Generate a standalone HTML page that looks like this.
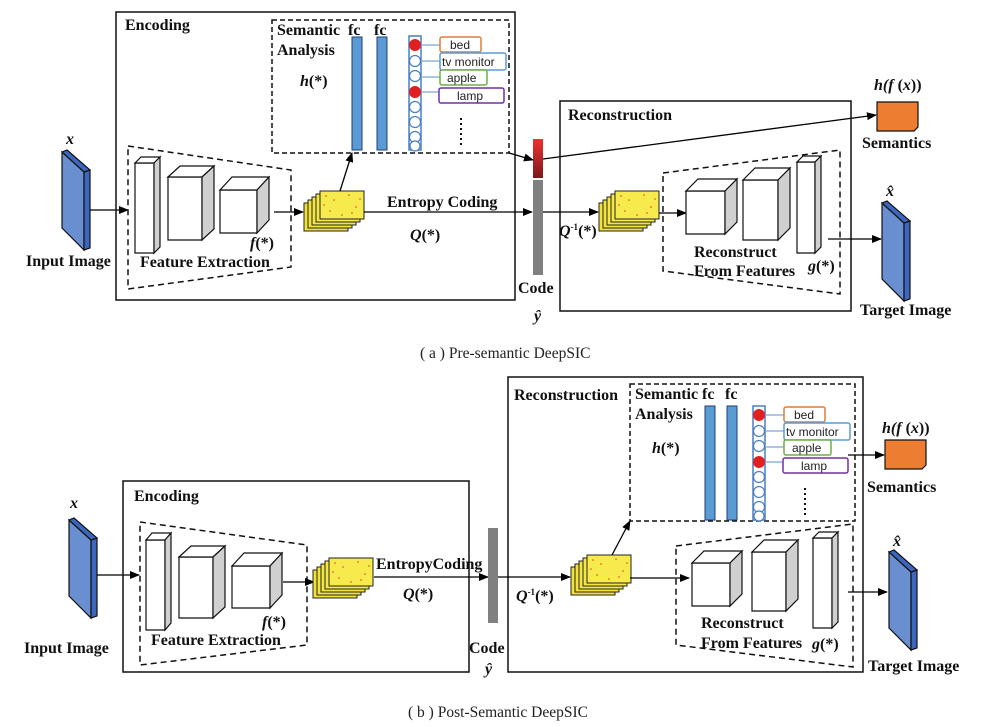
<!DOCTYPE html>
<html><head><meta charset="utf-8"><style>
html,body{margin:0;padding:0;background:#fff;}
svg{display:block;}
.b{font-family:"Liberation Serif",serif;font-weight:bold;font-size:16px;fill:#111;}
.i{font-family:"Liberation Serif",serif;font-weight:bold;font-style:italic;font-size:16px;fill:#111;}
.s{font-family:"Liberation Sans",sans-serif;font-size:12px;fill:#222;}
.c{font-family:"Liberation Serif",serif;font-size:15.5px;fill:#222;}
</style></head><body>
<svg width="994" height="727" viewBox="0 0 994 727" xmlns="http://www.w3.org/2000/svg">
<defs>
<marker id="ar" markerWidth="10" markerHeight="8" refX="9" refY="4" orient="auto" markerUnits="userSpaceOnUse">
<path d="M0,0 L10,4 L0,8 z" fill="#000"/></marker>
<g id="fm">
<rect x="0" y="12" width="44" height="28" fill="#f2e238" stroke="#222"/>
<rect x="4" y="9" width="44" height="28" fill="#f3e43c" stroke="#222"/>
<rect x="8" y="6" width="44" height="28" fill="#f4e640" stroke="#222"/>
<rect x="12" y="3" width="44" height="28" fill="#f5e845" stroke="#222"/>
<rect x="16" y="0" width="44" height="28" fill="#f6ea4c" stroke="#222"/>
<g fill="#d9442a"><circle cx="22" cy="5" r="0.8"/><circle cx="30" cy="9" r="0.8"/><circle cx="45" cy="4" r="0.8"/><circle cx="52" cy="16" r="0.8"/><circle cx="26" cy="20" r="0.8"/><circle cx="38" cy="24" r="0.8"/><circle cx="56" cy="8" r="0.8"/><circle cx="20" cy="14" r="0.8"/><circle cx="48" cy="22" r="0.8"/></g>
</g>
<g id="sl">
<polygon points="0,0 22,20 22,98 0,76" fill="#6a8fd0" stroke="#111" stroke-width="1.2"/>
<polygon points="22,20 28,18 28,96 22,98" fill="#3d66bf" stroke="#111" stroke-width="1.2"/>
<polygon points="0,0 5,-2 28,18 22,20" fill="#3d66bf" stroke="#111" stroke-width="1.2"/>
</g>
<g id="neu">
<rect x="0" y="0" width="12" height="114" fill="#fff" stroke="#4a7fc0" stroke-width="1.5"/>
<g fill="#fff" stroke="#4a7fc0" stroke-width="1.2">
<circle cx="6" cy="25" r="5.5"/><circle cx="6" cy="40" r="5.5"/><circle cx="6" cy="71" r="5.5"/><circle cx="6" cy="86" r="5.5"/><circle cx="6" cy="101" r="5.5"/><circle cx="6" cy="110" r="5"/></g>
<circle cx="6" cy="9" r="6" fill="#e02020"/><circle cx="6" cy="56" r="6" fill="#e02020"/>
<g stroke="#7aa7d8" stroke-width="1.2"><line x1="12" y1="9" x2="31" y2="9"/><line x1="12" y1="25" x2="31" y2="25"/><line x1="12" y1="41" x2="31" y2="41"/><line x1="12" y1="56" x2="30" y2="56"/></g>
<rect x="31" y="1" width="41" height="15" rx="2" fill="#fff" stroke="#e07b39" stroke-width="1.5"/>
<rect x="31" y="17" width="66" height="17" rx="2" fill="#fff" stroke="#5b9bd5" stroke-width="1.5"/>
<rect x="31" y="34" width="47" height="15" rx="2" fill="#fff" stroke="#70ad47" stroke-width="1.5"/>
<rect x="30" y="52" width="65" height="15" rx="2" fill="#fff" stroke="#7030a0" stroke-width="1.5"/>
<line x1="52" y1="82" x2="52" y2="111" stroke="#111" stroke-width="2" stroke-dasharray="2,3"/>
</g>
<g id="sem"><polygon points="0,0 41,0 41,25 37,29 0,29" fill="#ed7d31" stroke="#111" stroke-width="1.2"/></g>
</defs>

<!-- ================= (a) ================= -->
<use href="#sl" x="62" y="152"/>
<text class="i" x="66" y="144">x</text>
<text class="b" x="26" y="266">Input Image</text>
<line x1="90" y1="210" x2="128" y2="210" stroke="#000" stroke-width="1.3" marker-end="url(#ar)"/>

<rect x="116" y="12" width="399" height="288" fill="none" stroke="#111" stroke-width="1.5"/>
<text class="b" x="125" y="30">Encoding</text>

<rect x="272" y="20" width="237" height="133" fill="none" stroke="#111" stroke-width="1.5" stroke-dasharray="5,3"/>
<text class="b" x="277" y="35">Semantic</text>
<text class="b" x="277" y="55">Analysis</text>
<text class="i" x="300" y="86">h<tspan font-style="normal">(*)</tspan></text>
<text class="b" x="348" y="35">fc</text>
<text class="b" x="374" y="35">fc</text>
<rect x="352" y="37" width="10" height="113" fill="#5b9bd5" stroke="#1f3f70"/>
<rect x="377" y="37" width="10" height="113" fill="#5b9bd5" stroke="#1f3f70"/>
<use href="#neu" x="409" y="36"/>
<text class="s" x="450" y="49">bed</text>
<text class="s" x="442" y="66">tv monitor</text>
<text class="s" x="447" y="82">apple</text>
<text class="s" x="457" y="100">lamp</text>

<polygon points="128,146 291,170 291,267 128,289" fill="none" stroke="#111" stroke-width="1.5" stroke-dasharray="6,4"/>
<g stroke="#111" stroke-width="1.2">
<polygon points="135,163 154,163 154,253 135,253" fill="#fff"/>
<polygon points="135,163 141,157 160,157 154,163" fill="#fff"/>
<polygon points="154,163 160,157 160,247 154,253" fill="#d0d0d0"/>
<polygon points="168,177 202,177 202,240 168,240" fill="#fff"/>
<polygon points="168,177 180,166 214,166 202,177" fill="#fff"/>
<polygon points="202,177 214,166 214,229 202,240" fill="#d0d0d0"/>
<polygon points="220,190 257,190 257,233 220,233" fill="#fff"/>
<polygon points="220,190 232,177 269,177 257,190" fill="#fff"/>
<polygon points="257,190 269,177 269,220 257,233" fill="#d0d0d0"/>
</g>
<text class="i" x="250" y="248">f<tspan font-style="normal">(*)</tspan></text>
<text class="b" x="140" y="267">Feature Extraction</text>
<line x1="274" y1="212" x2="303" y2="212" stroke="#000" stroke-width="1.3" marker-end="url(#ar)"/>
<use href="#fm" x="304" y="191"/>
<line x1="340" y1="191" x2="352" y2="153" stroke="#000" stroke-width="1.3" marker-end="url(#ar)"/>
<line x1="364" y1="212" x2="532" y2="212" stroke="#000" stroke-width="1.3" marker-end="url(#ar)"/>
<text class="b" x="387" y="207">Entropy Coding</text>
<text class="i" x="410" y="240">Q<tspan font-style="normal">(*)</tspan></text>

<defs><linearGradient id="rg" x1="0" y1="0" x2="0" y2="1"><stop offset="0" stop-color="#f03030"/><stop offset="1" stop-color="#7a1a1a"/></linearGradient></defs>
<rect x="533" y="139" width="10" height="39" fill="url(#rg)"/>
<rect x="533" y="180" width="10" height="95" fill="#808080"/>
<text class="b" x="518" y="293">Code</text>
<text class="i" x="534" y="321">ŷ</text>
<line x1="509" y1="153" x2="533" y2="160" stroke="#000" stroke-width="1.3" marker-end="url(#ar)"/>
<line x1="543" y1="159" x2="876" y2="115" stroke="#000" stroke-width="1.3" marker-end="url(#ar)"/>
<use href="#sem" x="877" y="102"/>
<text class="i" x="874" y="90" font-size="14">h(f<tspan font-style="normal"> (</tspan>x<tspan font-style="normal">))</tspan></text>
<text class="b" x="862" y="148">Semantics</text>

<rect x="560" y="101" width="291" height="210" fill="none" stroke="#111" stroke-width="1.5"/>
<text class="b" x="568" y="120">Reconstruction</text>
<line x1="543" y1="212" x2="598" y2="212" stroke="#000" stroke-width="1.3" marker-end="url(#ar)"/>
<text class="i" x="559" y="236">Q<tspan font-style="normal" font-size="9" dy="-6">-1</tspan><tspan font-style="normal" dy="6">(*)</tspan></text>
<use href="#fm" x="599" y="191"/>
<polygon points="663,173 840,150 840,294 663,271" fill="none" stroke="#111" stroke-width="1.5" stroke-dasharray="6,4"/>
<line x1="659" y1="213" x2="686" y2="213" stroke="#000" stroke-width="1.3" marker-end="url(#ar)"/>
<g stroke="#111" stroke-width="1.2">
<polygon points="686,191 725,191 725,234 686,234" fill="#fff"/>
<polygon points="686,191 698,179 737,179 725,191" fill="#fff"/>
<polygon points="725,191 737,179 737,222 725,234" fill="#d0d0d0"/>
<polygon points="743,180 778,180 778,240 743,240" fill="#fff"/>
<polygon points="743,180 755,168 790,168 778,180" fill="#fff"/>
<polygon points="778,180 790,168 790,228 778,240" fill="#d0d0d0"/>
<polygon points="797,162 815,162 815,253 797,253" fill="#fff"/>
<polygon points="797,162 803,156 821,156 815,162" fill="#fff"/>
<polygon points="815,162 821,156 821,247 815,253" fill="#d0d0d0"/>
</g>
<text class="b" x="694" y="257">Reconstruct</text>
<text class="b" x="694" y="276">From Features</text>
<text class="i" x="808" y="271">g<tspan font-style="normal">(*)</tspan></text>
<line x1="828" y1="239" x2="881" y2="239" stroke="#000" stroke-width="1.3" marker-end="url(#ar)"/>
<use href="#sl" x="882" y="203"/>
<text class="i" x="886" y="196">x̂</text>
<text class="b" x="860" y="315">Target Image</text>
<text class="c" x="420" y="358">( a ) Pre-semantic DeepSIC</text>

<!-- ================= (b) ================= -->
<use href="#sl" x="69" y="520"/>
<text class="i" x="70" y="508">x</text>
<text class="b" x="24" y="653">Input Image</text>
<line x1="97" y1="575" x2="139" y2="575" stroke="#000" stroke-width="1.3" marker-end="url(#ar)"/>
<rect x="123" y="481" width="346" height="191" fill="none" stroke="#111" stroke-width="1.5"/>
<text class="b" x="134" y="501">Encoding</text>
<polygon points="140,522 307,545 307,645 140,665" fill="none" stroke="#111" stroke-width="1.5" stroke-dasharray="6,4"/>
<g stroke="#111" stroke-width="1.2">
<polygon points="146,540 165,540 165,630 146,630" fill="#fff"/>
<polygon points="146,540 152,533 171,533 165,540" fill="#fff"/>
<polygon points="165,540 171,533 171,623 165,630" fill="#d0d0d0"/>
<polygon points="179,557 213,557 213,618 179,618" fill="#fff"/>
<polygon points="179,557 191,546 225,546 213,557" fill="#fff"/>
<polygon points="213,557 225,546 225,607 213,618" fill="#d0d0d0"/>
<polygon points="232,566 270,566 270,608 232,608" fill="#fff"/>
<polygon points="232,566 244,553 282,553 270,566" fill="#fff"/>
<polygon points="270,566 282,553 282,595 270,608" fill="#d0d0d0"/>
</g>
<text class="i" x="262" y="627">f<tspan font-style="normal">(*)</tspan></text>
<text class="b" x="151" y="645">Feature Extraction</text>
<line x1="283" y1="582" x2="314" y2="582" stroke="#000" stroke-width="1.3" marker-end="url(#ar)"/>
<use href="#fm" x="313" y="558"/>
<text class="b" x="376" y="569">EntropyCoding</text>
<text class="i" x="403" y="599">Q<tspan font-style="normal">(*)</tspan></text>
<line x1="374" y1="577" x2="488" y2="577" stroke="#000" stroke-width="1.3" marker-end="url(#ar)"/>
<rect x="488" y="528" width="10" height="95" fill="#808080"/>
<text class="b" x="469" y="653">Code</text>
<text class="i" x="485" y="674">ŷ</text>

<rect x="508" y="377" width="355" height="295" fill="none" stroke="#111" stroke-width="1.5"/>
<text class="b" x="514" y="400">Reconstruction</text>
<rect x="630" y="384" width="225" height="137" fill="none" stroke="#111" stroke-width="1.5" stroke-dasharray="5,3"/>
<text class="b" x="635" y="399">Semantic</text>
<text class="b" x="635" y="419">Analysis</text>
<text class="i" x="652" y="453">h<tspan font-style="normal">(*)</tspan></text>
<text class="b" x="702" y="399">fc</text>
<text class="b" x="725" y="399">fc</text>
<rect x="705" y="406" width="10" height="114" fill="#5b9bd5" stroke="#1f3f70"/>
<rect x="727" y="406" width="10" height="114" fill="#5b9bd5" stroke="#1f3f70"/>
<use href="#neu" x="753" y="406"/>
<text class="s" x="794" y="419">bed</text>
<text class="s" x="786" y="436">tv monitor</text>
<text class="s" x="792" y="452">apple</text>
<text class="s" x="801" y="470">lamp</text>
<line x1="848" y1="455" x2="884" y2="455" stroke="#000" stroke-width="1.3" marker-end="url(#ar)"/>
<use href="#sem" x="885" y="440"/>
<text class="i" x="882" y="433" font-size="14">h(f<tspan font-style="normal"> (</tspan>x<tspan font-style="normal">))</tspan></text>
<text class="b" x="867" y="492">Semantics</text>

<line x1="498" y1="577" x2="570" y2="577" stroke="#000" stroke-width="1.3" marker-end="url(#ar)"/>
<text class="i" x="516" y="601">Q<tspan font-style="normal" font-size="9" dy="-6">-1</tspan><tspan font-style="normal" dy="6">(*)</tspan></text>
<use href="#fm" x="571" y="555"/>
<line x1="612" y1="555" x2="630" y2="521" stroke="#000" stroke-width="1.3" marker-end="url(#ar)"/>
<line x1="630" y1="578" x2="689" y2="578" stroke="#000" stroke-width="1.3" marker-end="url(#ar)"/>
<polygon points="676,546 853,524 853,667 676,645" fill="none" stroke="#111" stroke-width="1.5" stroke-dasharray="6,4"/>
<g stroke="#111" stroke-width="1.2">
<polygon points="692,563 730,563 730,606 692,606" fill="#fff"/>
<polygon points="692,563 704,551 742,551 730,563" fill="#fff"/>
<polygon points="730,563 742,551 742,594 730,606" fill="#d0d0d0"/>
<polygon points="752,552 786,552 786,611 752,611" fill="#fff"/>
<polygon points="752,552 764,540 798,540 786,552" fill="#fff"/>
<polygon points="786,552 798,540 798,599 786,611" fill="#d0d0d0"/>
<polygon points="813,538 832,538 832,628 813,628" fill="#fff"/>
<polygon points="813,538 819,532 838,532 832,538" fill="#fff"/>
<polygon points="832,538 838,532 838,622 832,628" fill="#d0d0d0"/>
</g>
<text class="b" x="701" y="628">Reconstruct</text>
<text class="b" x="701" y="648">From Features</text>
<text class="i" x="812" y="649">g<tspan font-style="normal">(*)</tspan></text>
<line x1="848" y1="592" x2="887" y2="592" stroke="#000" stroke-width="1.3" marker-end="url(#ar)"/>
<use href="#sl" x="889" y="552"/>
<text class="i" x="893" y="546">x̂</text>
<text class="b" x="868" y="671">Target Image</text>
<text class="c" x="408" y="717">( b ) Post-Semantic DeepSIC</text>
</svg>
</body></html>
